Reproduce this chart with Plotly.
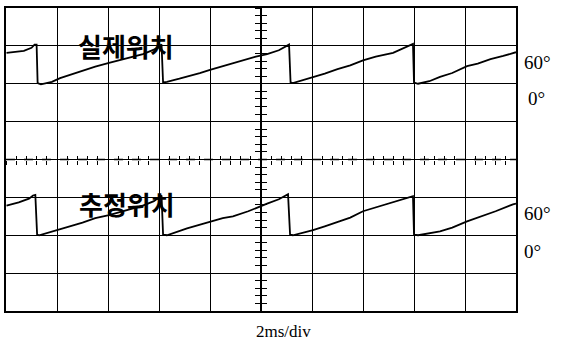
import plotly.graph_objects as go

# time axis: ms (2 ms/div, 10 divisions)
# trace values: electrical position in degrees (60 deg per division)

t_actual = [0.02, 0.4, 0.7, 1.0, 1.12, 1.2, 1.24, 1.37, 1.8, 2.12, 2.5, 3.0, 3.5, 4.04, 4.5, 5.0, 5.37,
            5.8, 6.1, 6.16, 6.31, 6.8, 7.1, 7.6, 8.0, 8.5, 8.9, 9.4, 9.8, 10.24, 10.7, 11.1, 11.16,
            11.25, 11.6, 12.04, 12.5, 13.0, 13.5, 14.0, 14.5, 15.18, 15.6, 15.96, 16.0, 16.16, 16.6,
            17.02, 17.5, 18.08, 18.5, 19.0, 19.5, 19.88, 20.0]
pos_actual = [49, 51, 52, 57, 62, 62, 1, -1, 3, 9, 14, 20, 27, 33, 38, 44, 47,
              54, 62, 2, 3, 8, 11, 17, 22, 28, 33, 38, 43, 47, 53, 62, 2,
              1, 5, 11, 16, 23, 29, 37, 43, 49, 56, 63, 2, 0, 4,
              11, 17, 28, 32, 39, 44, 49, 50]

t_est = [0.02, 0.5, 0.9, 1.06, 1.15, 1.22, 1.3, 1.85, 2.5, 3.0, 3.5, 4.04, 4.5, 5.0, 5.37, 5.8,
         6.1, 6.16, 6.31, 7.1, 7.6, 8.0, 8.5, 8.9, 9.5, 10.24, 10.7, 11.06, 11.14, 11.25, 12.04,
         12.5, 13.0, 13.5, 14.0, 14.5, 15.0, 15.5, 15.96, 16.0, 16.16, 17.02, 17.5, 18.08, 18.6,
         19.2, 19.88, 20.0]
pos_est = [47, 52, 58, 63, 64, 1, 0, 6, 14, 20, 27, 32, 37, 43, 47, 54,
           63, 1, 0, 11, 17, 21, 27, 30, 38, 50, 57, 65, 1, 0, 8,
           14, 21, 28, 38, 44, 51, 57, 62, 1, 0, 6, 12, 22, 29,
           38, 49, 50]

label_actual = "실제위치"
label_est = "추정위치"
offset_actual = 120   # 0 deg of upper trace sits 2 div above centre
offset_est = -120     # 0 deg of lower trace sits 2 div below centre
x_range = [0, 20]
y_range = [-240, 240]

fig = go.Figure()
fig.add_trace(go.Scatter(x=t_actual, y=[v + offset_actual for v in pos_actual], mode="lines",
                         line=dict(color="black", width=1.8), showlegend=False))
fig.add_trace(go.Scatter(x=t_est, y=[v + offset_est for v in pos_est], mode="lines",
                         line=dict(color="black", width=1.8), showlegend=False))

grid = dict(showgrid=True, gridcolor="black", gridwidth=1.3, zeroline=False,
            showline=True, linecolor="black", linewidth=2, mirror=True,
            showticklabels=False, ticks="")
fig.update_layout(
    width=563, height=344,
    margin=dict(l=6, r=47, t=8, b=33),
    paper_bgcolor="white", plot_bgcolor="white",
    xaxis=dict(range=x_range, dtick=2, **grid),
    yaxis=dict(range=y_range, dtick=60, **grid),
    # centre cross-hair graticule ticks
    xaxis2=dict(range=x_range, overlaying="x", anchor="free", position=0.5, showgrid=False,
                zeroline=False, showline=False, showticklabels=False, ticks="outside",
                ticklen=4, tickwidth=1, tickcolor="black", dtick=0.4),
    xaxis3=dict(range=x_range, overlaying="x", anchor="free", position=0.5, showgrid=False,
                zeroline=False, showline=False, showticklabels=False, ticks="inside",
                ticklen=4, tickwidth=1, tickcolor="black", dtick=0.4),
    yaxis2=dict(range=y_range, overlaying="y", anchor="free", position=0.5, showgrid=False,
                zeroline=False, showline=True, linecolor="black", linewidth=1.5,
                showticklabels=False, ticks="outside", ticklen=5, tickwidth=1,
                tickcolor="black", dtick=12),
    yaxis3=dict(range=y_range, overlaying="y", anchor="free", position=0.5, showgrid=False,
                zeroline=False, showline=False, showticklabels=False, ticks="inside",
                ticklen=5, tickwidth=1, tickcolor="black", dtick=12),
)
# empty traces so that the centre axes are drawn
fig.add_trace(go.Scatter(x=[], y=[], xaxis="x2", yaxis="y2", showlegend=False))
fig.add_trace(go.Scatter(x=[], y=[], xaxis="x3", yaxis="y3", showlegend=False))

# dashed centre horizontal line
fig.add_shape(type="line", xref="paper", yref="y", x0=0, x1=1, y0=0, y1=0,
              line=dict(color="black", width=1.3, dash="dash"))

kfont = dict(family="Noto Sans CJK KR", size=26, color="black")
fig.add_annotation(x=4.7, y=180, xref="x", yref="y", text=f"<b>{label_actual}</b>",
                   showarrow=False, font=kfont)
fig.add_annotation(x=4.75, y=-69, xref="x", yref="y", text=f"<b>{label_est}</b>",
                   showarrow=False, font=kfont)

sfont = dict(family="Liberation Serif", size=19, color="black")
for txt, px, py in [("60°", 522, 62), ("0°", 526, 99), ("60°", 522, 213), ("0°", 522, 251)]:
    fig.add_annotation(x=(px - 6) / 510, y=(311 - py) / 303, xref="paper", yref="paper",
                       text=txt, showarrow=False, xanchor="left", yanchor="middle", font=sfont)

fig.add_annotation(x=(283 - 6) / 510, y=(311 - 321) / 303, xref="paper", yref="paper",
                   text="2ms/div", showarrow=False, xanchor="center", yanchor="top",
                   borderpad=0, font=dict(family="Liberation Serif", size=17, color="black"))

fig.write_html("out.html", config={"displayModeBar": False},
               post_script="document.body.style.margin='0';")
